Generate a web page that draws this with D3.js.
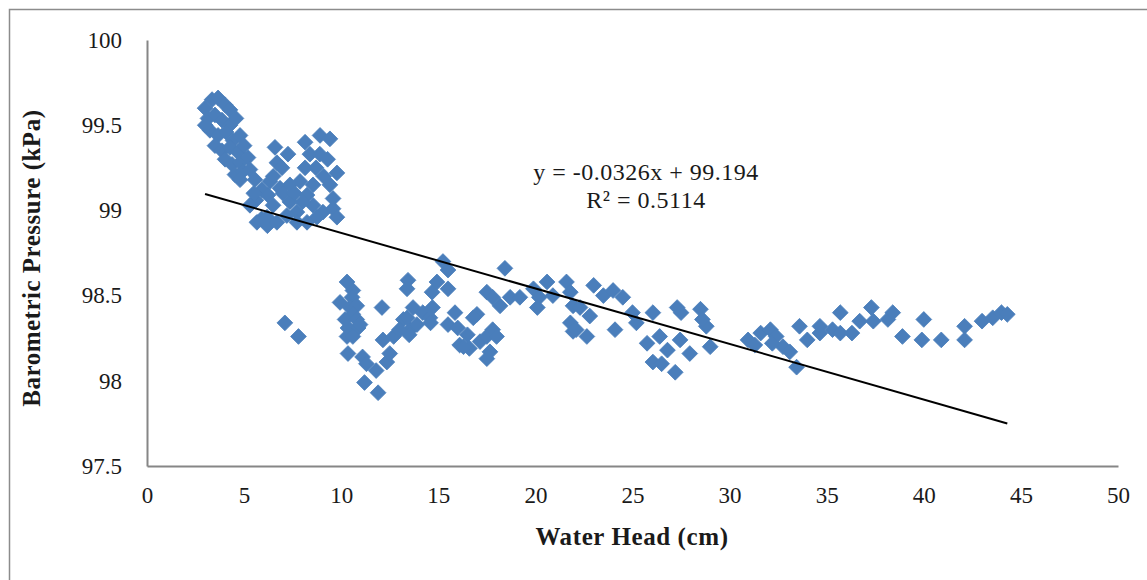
<!DOCTYPE html>
<html>
<head>
<meta charset="utf-8">
<script src="https://cdn.jsdelivr.net/npm/d3@7"></script>
<style>
  body { margin: 0; background: #fff; }
  svg { display: block; font-family: "Liberation Serif", "DejaVu Serif", serif; }
</style>
</head>
<body>
<div id="chart"></div>
<script>
// Water head (cm) vs barometric pressure (kPa)
const waterHead = [
  2.99, 3.35, 3.66, 4.02, 4.27, 3.14, 3.50, 3.86, 4.27, 4.58, 3.24, 3.66, 4.07, 4.43, 4.79,
  3.50, 3.86, 4.27, 4.69, 5.00, 4.02, 4.38, 4.79, 5.20, 4.53, 4.94, 5.30, 4.79, 3.00,
  5.56, 5.92, 5.61, 5.50, 5.30, 5.90, 6.20, 5.66, 6.18,
  6.59, 7.26, 6.69, 6.95, 8.14, 8.91, 9.42, 8.39, 8.90, 9.78, 9.42, 9.58, 9.58, 9.78, 9.06,
  8.14, 7.88, 7.36, 6.85, 6.33, 6.23, 6.49, 7.36, 7.72, 8.24, 8.55, 8.55, 8.75, 6.69, 7.20,
  7.72, 8.24, 7.00, 7.60, 8.00, 8.70, 9.10, 9.30, 6.50, 7.10, 7.80,
  10.30, 10.60, 10.56, 9.94, 10.45, 10.80, 10.60, 10.20, 10.80, 10.35, 10.87, 10.30, 10.60,
  10.35, 10.97, 11.10, 11.30, 12.10, 11.20, 11.90, 11.80, 12.35, 12.50, 12.15, 12.70, 13.20,
  13.44, 13.39, 13.55, 13.70, 13.40, 14.20, 13.90, 13.50, 14.57, 14.68, 14.93, 14.60, 14.70,
  15.24, 15.50, 15.50, 15.86, 15.50, 16.00, 16.50, 16.10, 16.60, 16.30, 16.99, 16.80, 17.15,
  17.50, 17.80, 17.66, 17.50, 18.00, 17.50, 17.80, 18.18, 18.43, 18.70, 19.20, 19.90, 20.20,
  20.10, 20.60, 20.90, 21.60, 21.80, 21.94, 21.80, 21.94, 13.00,
  22.30, 22.10, 22.65, 23.00, 23.50, 24.00, 24.50, 24.10, 25.00, 25.20, 26.05, 25.75, 26.40,
  26.05, 26.80, 27.20, 27.30, 27.45, 27.95, 28.50, 28.80, 29.00, 28.60, 26.50, 27.50, 22.80,
  30.95, 31.30, 31.60, 32.10, 32.40, 32.75, 33.45, 33.60, 34.00, 34.65, 34.65, 35.30, 35.70,
  35.70, 36.30, 36.70, 37.30, 37.40, 38.15, 38.40, 38.90, 40.00, 39.90, 40.90, 42.10, 42.10,
  43.00, 43.55, 44.00, 44.30, 33.10, 32.20
];
const pressure = [
  99.60, 99.65, 99.66, 99.62, 99.59, 99.54, 99.56, 99.53, 99.50, 99.54, 99.47, 99.44, 99.46, 99.41, 99.44,
  99.38, 99.35, 99.37, 99.34, 99.38, 99.30, 99.27, 99.28, 99.31, 99.21, 99.23, 99.24, 99.18, 99.50,
  99.18, 99.12, 99.06, 99.10, 99.03, 98.95, 98.91, 98.93, 98.96,
  99.37, 99.33, 99.28, 99.25, 99.40, 99.44, 99.42, 99.33, 99.33, 99.22, 99.15, 99.07, 99.01, 98.96, 98.99,
  99.25, 99.17, 99.15, 99.13, 99.17, 99.09, 99.03, 99.05, 98.99, 99.09, 99.03, 99.15, 98.96, 98.93, 98.97,
  98.93, 98.93, 99.10, 99.10, 99.05, 99.25, 99.20, 99.30, 99.20, 98.34, 98.26,
  98.58, 98.53, 98.49, 98.46, 98.43, 98.44, 98.39, 98.36, 98.36, 98.31, 98.31, 98.26, 98.26,
  98.16, 98.33, 98.14, 98.10, 98.43, 97.99, 97.93, 98.06, 98.11, 98.16, 98.24, 98.26, 98.36,
  98.59, 98.54, 98.30, 98.43, 98.37, 98.40, 98.33, 98.27, 98.37, 98.52, 98.58, 98.34, 98.43,
  98.70, 98.65, 98.54, 98.40, 98.33, 98.31, 98.27, 98.21, 98.19, 98.20, 98.39, 98.37, 98.23,
  98.26, 98.30, 98.17, 98.13, 98.26, 98.52, 98.49, 98.44, 98.66, 98.49, 98.49, 98.54, 98.49,
  98.43, 98.58, 98.50, 98.58, 98.52, 98.44, 98.34, 98.29, 98.30,
  98.43, 98.30, 98.26, 98.56, 98.50, 98.53, 98.49, 98.30, 98.40, 98.34, 98.40, 98.22, 98.26,
  98.11, 98.18, 98.05, 98.43, 98.24, 98.16, 98.42, 98.32, 98.20, 98.36, 98.10, 98.40, 98.38,
  98.24, 98.21, 98.28, 98.30, 98.26, 98.20, 98.08, 98.32, 98.24, 98.32, 98.28, 98.30, 98.40,
  98.28, 98.28, 98.35, 98.43, 98.35, 98.36, 98.40, 98.26, 98.36, 98.24, 98.24, 98.32, 98.24,
  98.35, 98.37, 98.40, 98.39, 98.17, 98.22
];
const xTicks = [0, 5, 10, 15, 20, 25, 30, 35, 40, 45, 50];
const yTicks = [97.5, 98, 98.5, 99, 99.5, 100];
const trendSlope = -0.0326;
const trendIntercept = 99.194;
const rSquared = 0.5114;

const width = 1147, height = 580;
const margin = { top: 40, right: 29, bottom: 114, left: 147 };

const svg = d3.select('#chart').append('svg')
  .attr('width', width).attr('height', height);

// outer chart frame (runs off the right/bottom edges)
svg.append('rect')
  .attr('x', 9.5).attr('y', 9.5)
  .attr('width', width + 20).attr('height', height + 20)
  .attr('fill', 'none').attr('stroke', '#8c8c8c').attr('stroke-width', 1.5);

const x = d3.scaleLinear().domain([0, 50]).range([margin.left, width - margin.right]);
const y = d3.scaleLinear().domain([97.5, 100]).range([height - margin.bottom, margin.top]);

// axes: lines only, no tick marks
const xAxis = svg.append('g')
  .attr('transform', `translate(0,${y(97.5)})`)
  .call(d3.axisBottom(x).tickValues(xTicks).tickSize(0).tickPadding(21).tickFormat(d3.format('')));
const yAxis = svg.append('g')
  .attr('transform', `translate(${x(0)},0)`)
  .call(d3.axisLeft(y).tickValues(yTicks).tickSize(0).tickPadding(25).tickFormat(d => String(d)));

[xAxis, yAxis].forEach(a => {
  a.select('.domain').attr('stroke', '#868686').attr('stroke-width', 2);
  a.selectAll('text')
    .style('font-family', '"Liberation Serif", serif')
    .style('font-size', '23px')
    .attr('fill', '#1a1a1a');
});

// points
const pts = waterHead.map((d, i) => ({ x: d, y: pressure[i] }));
const diamond = d3.symbol().type(d3.symbolSquare).size(124);
svg.append('g').selectAll('path')
  .data(pts)
  .enter()
  .append('path')
  .attr('d', diamond)
  .attr('transform', d => `translate(${x(d.x)},${y(d.y)}) rotate(45)`)
  .attr('fill', '#4a7ebb')
  .attr('stroke', '#4a7ebb')
  .attr('stroke-width', 0.8);

// linear trendline over the data range
const [xMin, xMax] = d3.extent(waterHead);
svg.append('line')
  .attr('x1', x(xMin)).attr('y1', y(trendIntercept + trendSlope * xMin))
  .attr('x2', x(xMax)).attr('y2', y(trendIntercept + trendSlope * xMax))
  .attr('stroke', '#000').attr('stroke-width', 2);

// equation label
const eq = svg.append('text')
  .attr('x', 646).attr('y', 180)
  .attr('text-anchor', 'middle')
  .style('font-size', '24px').style('letter-spacing', '0.5px').attr('fill', '#1a1a1a');
eq.append('tspan').attr('x', 646).text(`y = ${trendSlope}x + ${trendIntercept}`);
eq.append('tspan').attr('x', 646).attr('dy', 28).text(`R² = ${rSquared}`);

// axis titles
svg.append('text')
  .attr('x', 632).attr('y', 545)
  .attr('text-anchor', 'middle')
  .style('font-size', '25px').style('font-weight', 'bold').style('letter-spacing', '0.6px')
  .attr('fill', '#1a1a1a')
  .text('Water Head (cm)');

svg.append('text')
  .attr('transform', `translate(40,${y(98.72)}) rotate(-90)`)
  .attr('text-anchor', 'middle')
  .style('font-size', '25px').style('font-weight', 'bold').style('letter-spacing', '0.5px')
  .attr('fill', '#1a1a1a')
  .text('Barometric Pressure (kPa)');
</script>
</body>
</html>
